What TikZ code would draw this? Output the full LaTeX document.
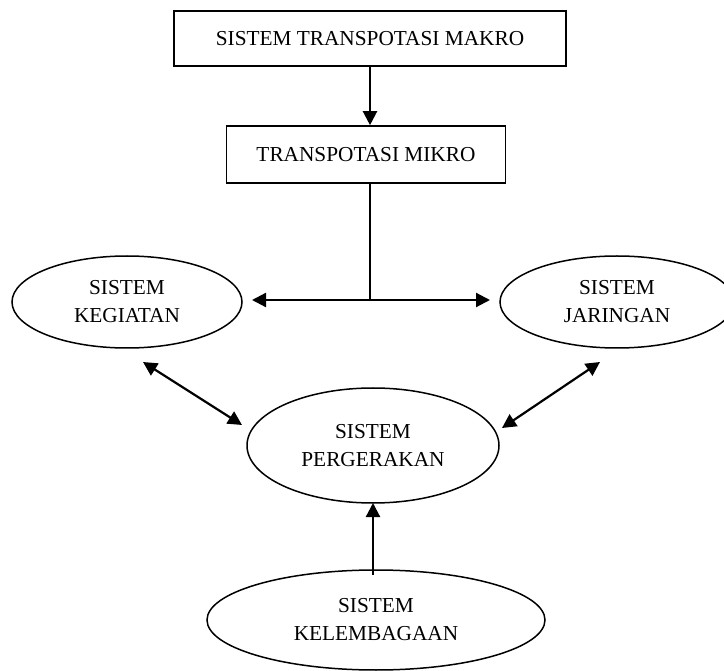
\documentclass[tikz,border=0pt]{standalone}
\usepackage{fontspec}
\setmainfont{Liberation Serif}
\usetikzlibrary{arrows.meta,shapes.geometric}
\begin{document}
\begin{tikzpicture}[x=1pt,y=-1pt,
  every node/.style={font=\fontsize{21.3}{28}\selectfont, align=center, inner sep=0pt},
  boxnode/.style={draw, rectangle, line width=1.6pt},
  ovalnode/.style={draw, ellipse, line width=1.5pt},
  conn/.style={line width=2.2pt, -{Triangle[length=14pt,width=14pt]}},
  dconn/.style={line width=2.2pt, {Triangle[length=14pt,width=14pt]}-{Triangle[length=14pt,width=14pt]}},
  plain/.style={line width=1.4pt}]
\useasboundingbox (0,0) rectangle (724,671);
\clip (0,0) rectangle (724,671);
\node[boxnode, minimum width=392pt, minimum height=55pt] (top) at (370,38.5) {SISTEM TRANSPOTASI MAKRO};
\node[boxnode, minimum width=279pt, minimum height=57pt] (mikro) at (366,154.5) {TRANSPOTASI MIKRO};
\node[ovalnode, minimum width=230pt, minimum height=92pt] (keg) at (127,302) {SISTEM\\KEGIATAN};
\node[ovalnode, minimum width=234pt, minimum height=92pt] (jar) at (617,302) {SISTEM\\JARINGAN};
\node[ovalnode, minimum width=252pt, minimum height=115pt] (perg) at (373,445.5) {SISTEM\\PERGERAKAN};
\node[ovalnode, minimum width=338pt, minimum height=100pt] (kel) at (376,620) {SISTEM\\KELEMBAGAAN};
\coordinate (j) at (370,300);
\coordinate (hl) at (252,300);
\coordinate (hr) at (490,300);
\coordinate (dl1) at (143,362);
\coordinate (dl2) at (242,425);
\coordinate (dr1) at (502,428);
\coordinate (dr2) at (600,362);
\coordinate (up1) at (373,575);
\coordinate (up2) at (373,503);
\draw[conn] (top.south -| j) -- (mikro.north -| j);
\draw[plain] (mikro.south -| j) -- (j);
\draw[dconn] (hl) -- (hr);
\draw[dconn] (dl1) -- (dl2);
\draw[dconn] (dr1) -- (dr2);
\draw[conn] (up1) -- (up2);
\end{tikzpicture}
\end{document}
